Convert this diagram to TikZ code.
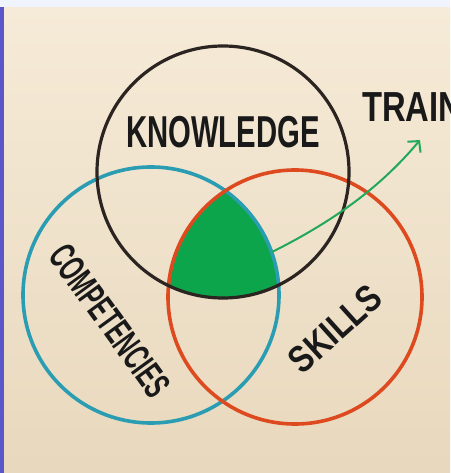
\documentclass[tikz,border=0pt]{standalone}
\usepackage{fontspec}
\setmainfont{Liberation Sans}
\usetikzlibrary{arrows.meta}
\definecolor{bgtop}{HTML}{F6EBD8}
\definecolor{bgbot}{HTML}{E8D8BD}
\definecolor{stripc}{HTML}{F0F4FE}
\definecolor{sidebar}{HTML}{5B57C9}
\definecolor{knowc}{HTML}{2B2421}
\definecolor{compc}{HTML}{2A9DB3}
\definecolor{skillc}{HTML}{DE4A1F}
\definecolor{corec}{HTML}{0DA54B}
\definecolor{arrowg}{HTML}{22A85A}
\begin{document}
\begin{tikzpicture}[x=1pt,y=-1pt,
  ring/.style={line width=3.6pt},
  word/.style={inner sep=0pt, transform shape, text=black!90}]
\useasboundingbox (0,0) rectangle (450,473);
\clip (0,0) rectangle (450,473);
% background
\shade[top color=bgtop,bottom color=bgbot] (0,7) rectangle (450,473);
\fill[stripc] (0,0) rectangle (450,7);
\fill[sidebar] (0,7) rectangle (4,473);
% circle centres
\coordinate (kc) at (223,172);
\coordinate (cc) at (151,295);
\coordinate (sc) at (295,297);
% triple intersection
\begin{scope}
  \clip (kc) circle[radius=126pt];
  \clip (cc) circle[radius=128pt];
  \fill[corec] (sc) circle[radius=127pt];
\end{scope}
% circles
\draw[ring, compc] (cc) circle[radius=128pt];
\draw[ring, skillc] (sc) circle[radius=127pt];
\draw[ring, knowc, line width=3.2pt] (kc) circle[radius=126pt];
% labels
\node[word, font=\bfseries\fontsize{44.7}{45}\selectfont, xscale=0.655] (know) at (223,132) {KNOWLEDGE};
\node[word, font=\bfseries\fontsize{38}{38}\selectfont, rotate=-54, xscale=0.585] (comp) at (110,321) {COMPETENCIES};
\node[word, font=\bfseries\fontsize{37.7}{38}\selectfont, rotate=42, xscale=0.82] (skills) at (335,329) {SKILLS};
\node[word, font=\bfseries\fontsize{42}{42}\selectfont, anchor=west, xscale=0.78] (train) at (362,107) {TRAIN};
% arrow
\coordinate (a0) at (272,252);
\coordinate (a1) at (420,140);
\draw[arrowg, line width=2pt, -{Straight Barb[length=8pt,width=17pt]}]
  (a0) .. controls (332,222) and (380,188) .. (a1);
\end{tikzpicture}
\end{document}
